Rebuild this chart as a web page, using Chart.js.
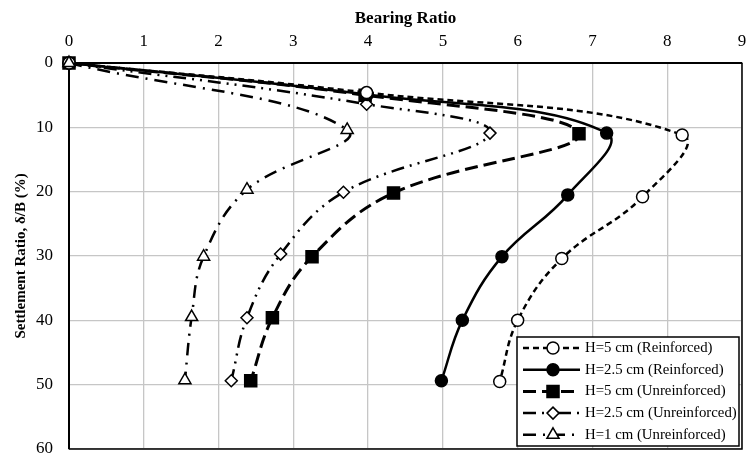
<!DOCTYPE html>
<html>
<head>
<meta charset="utf-8">
<script src="https://cdn.jsdelivr.net/npm/chart.js@4.4.0/dist/chart.umd.min.js"></script>
<style>
  html, body { margin: 0; padding: 0; background: #fff; overflow: hidden; }
  #wrap { width: 747px; height: 454px; }
</style>
</head>
<body>
<div id="wrap"><canvas id="chart"></canvas></div>
<script>
// DATA (bearing ratio = x, settlement ratio % = y)
const seriesNames = [
  "H=5 cm (Reinforced)",
  "H=2.5 cm (Reinforced)",
  "H=5 cm (Unreinforced)",
  "H=2.5 cm (Unreinforced)",
  "H=1 cm (Unreinforced)"
];

const bearing5R = [0, 3.98, 8.2, 7.67, 6.59, 6.0, 5.76];
const settle5R = [0, 4.6, 11.2, 20.8, 30.4, 40.0, 49.5];

const bearing25R = [0, 3.99, 7.19, 6.67, 5.79, 5.26, 4.98];
const settle25R = [0, 4.9, 10.9, 20.5, 30.1, 40.0, 49.4];

const bearing5U = [0, 3.96, 6.82, 4.34, 3.25, 2.72, 2.43];
const settle5U = [0, 5.0, 11.0, 20.2, 30.1, 39.6, 49.4];

const bearing25U = [0, 3.98, 5.63, 3.67, 2.83, 2.38, 2.17];
const settle25U = [0, 6.4, 10.9, 20.1, 29.7, 39.6, 49.4];

const bearing1U = [0, 3.72, 2.38, 1.8, 1.64, 1.55];
const settle1U = [0, 10.4, 19.7, 30.1, 39.5, 49.3];

const xTicks = [0, 1, 2, 3, 4, 5, 6, 7, 8, 9];
const yTicks = [0, 10, 20, 30, 40, 50, 60];

function toPoints(xs, ys) {
  return xs.map((x, i) => ({ x: x, y: ys[i] }));
}

// STYLES
const styles = [
  { dash: [6, 4], width: 2.5, point: "circle", radius: 6, fill: "#fff", order: 1 },
  { dash: [], width: 2.5, point: "circle", radius: 6, fill: "#000", order: 2 },
  { dash: [13, 6], width: 3, point: "rect", radius: 8.5, fill: "#000", order: 4 },
  { dash: [13, 6, 2, 6, 2, 6], width: 2.5, point: "rectRot", radius: 6, fill: "#fff", order: 3 },
  { dash: [13, 7, 2, 7], width: 2.5, point: "triangle", radius: 7, fill: "#fff", order: 0 }
];

const seriesData = [
  toPoints(bearing5R, settle5R),
  toPoints(bearing25R, settle25R),
  toPoints(bearing5U, settle5U),
  toPoints(bearing25U, settle25U),
  toPoints(bearing1U, settle1U)
];

const datasets = seriesNames.map((name, i) => ({
  label: name,
  data: seriesData[i],
  showLine: true,
  tension: 0.4,
  borderColor: "#000",
  borderWidth: styles[i].width,
  borderDash: styles[i].dash,
  pointStyle: styles[i].point,
  pointRadius: styles[i].radius,
  pointBackgroundColor: styles[i].fill,
  pointBorderColor: "#000",
  pointBorderWidth: 1.5,
  clip: false,
  order: styles[i].order
}));

// plot frame (right & bottom edges) + legend box
const framePlugin = {
  id: "frame",
  beforeDatasetsDraw(chart) {
    const { ctx, chartArea: a } = chart;
    ctx.save();
    ctx.strokeStyle = "#000";
    ctx.lineWidth = 1.5;
    ctx.beginPath();
    ctx.moveTo(a.right, a.top);
    ctx.lineTo(a.right, a.bottom);
    ctx.lineTo(a.left, a.bottom);
    ctx.stroke();
    ctx.restore();
  },
  afterDraw(chart) {
    const ctx = chart.ctx;
    const bx = 517, by = 337, bw = 222, bh = 109;
    ctx.save();
    ctx.fillStyle = "#fff";
    ctx.fillRect(bx, by, bw, bh);
    ctx.strokeStyle = "#000";
    ctx.lineWidth = 1.5;
    ctx.strokeRect(bx, by, bw, bh);
    ctx.font = "14.8px 'Liberation Serif', 'Times New Roman', serif";
    ctx.textBaseline = "middle";
    seriesNames.forEach((name, i) => {
      const s = styles[i];
      const y = 348 + i * 21.7;
      ctx.strokeStyle = "#000";
      ctx.lineWidth = s.width;
      ctx.setLineDash(s.dash);
      ctx.beginPath();
      ctx.moveTo(523, y);
      ctx.lineTo(580, y);
      ctx.stroke();
      ctx.setLineDash([]);
      ctx.fillStyle = s.fill;
      ctx.lineWidth = 1.5;
      Chart.helpers.drawPoint(ctx, { pointStyle: s.point, radius: s.radius, rotation: 0, borderWidth: 1.5 }, 553, y);
      ctx.fillStyle = "#000";
      ctx.fillText(name, 585, y);
    });
    ctx.restore();
  }
};

const serif = "'Liberation Serif', 'Times New Roman', serif";

new Chart(document.getElementById("chart"), {
  type: "scatter",
  data: { datasets: datasets },
  options: {
    responsive: true,
    maintainAspectRatio: false,
    animation: false,
    layout: { autoPadding: false, padding: { left: 0, right: 5, top: 0, bottom: 5 } },
    plugins: { legend: { display: false }, tooltip: { enabled: false } },
    scales: {
      x: {
        type: "linear",
        position: "top",
        min: 0,
        max: 9,
        afterBuildTicks(scale) { scale.ticks = xTicks.map(v => ({ value: v })); },
        afterFit(scale) {
          scale.height = 63;
          scale.paddingLeft = 0;
          scale.paddingRight = 0;
        },
        ticks: { color: "#000", font: { family: serif, size: 17 }, padding: 11 },
        grid: { color: "#c6c6c6", lineWidth: 1.3, drawTicks: false },
        border: { color: "#000", width: 2 },
        title: {
          display: true,
          text: "Bearing Ratio",
          color: "#000",
          font: { family: serif, size: 17, weight: "bold" },
          padding: { top: 8, bottom: 0 }
        }
      },
      y: {
        type: "linear",
        reverse: true,
        min: 0,
        max: 60,
        afterBuildTicks(scale) { scale.ticks = yTicks.map(v => ({ value: v })); },
        afterFit(scale) {
          scale.width = 69;
          scale.paddingTop = 0;
          scale.paddingBottom = 0;
        },
        ticks: { color: "#000", font: { family: serif, size: 17 }, padding: 16 },
        grid: { color: "#c6c6c6", lineWidth: 1.3, drawTicks: false },
        border: { color: "#000", width: 2 },
        title: {
          display: true,
          text: "Settlement Ratio, δ/B (%)",
          color: "#000",
          font: { family: serif, size: 15, weight: "bold" },
          padding: { top: 12, bottom: 0 }
        }
      }
    }
  },
  plugins: [framePlugin]
});
</script>
</body>
</html>
